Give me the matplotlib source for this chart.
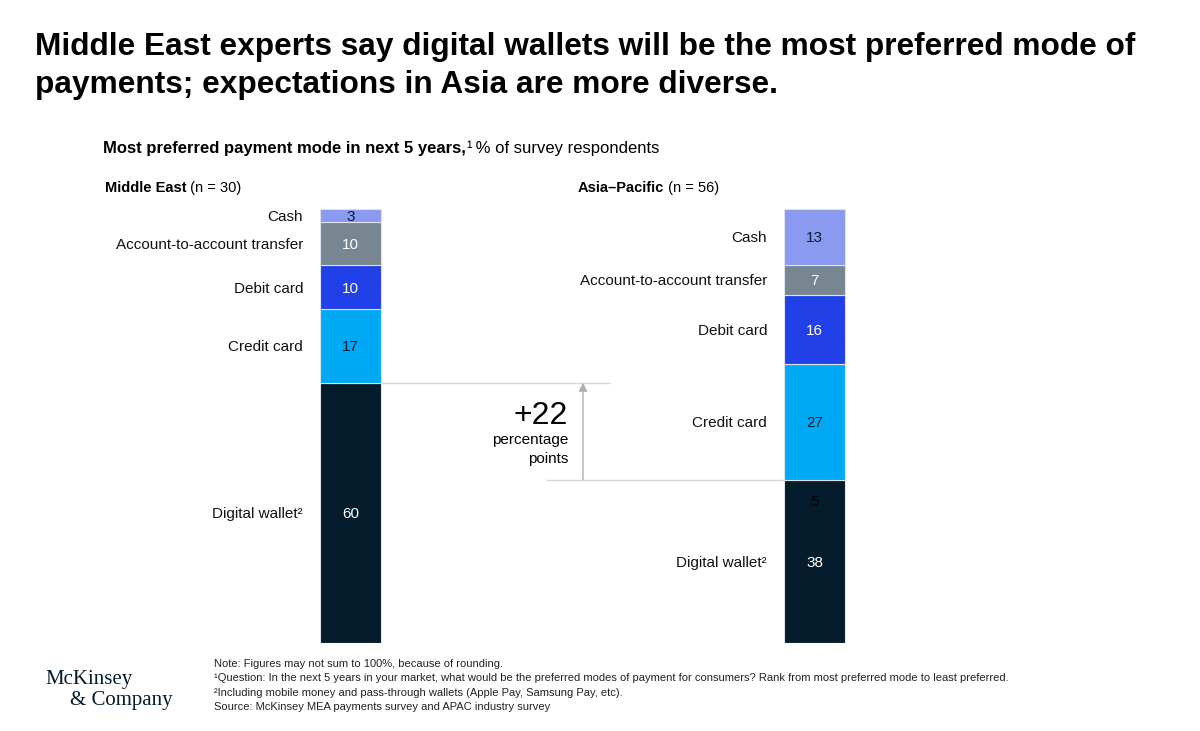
import matplotlib
matplotlib.use("Agg")
import matplotlib.pyplot as plt

# ---------------- data ----------------
categories = ["Digital wallet²", "Credit card", "Debit card", "Account-to-account transfer", "Cash"]
middle_east = [60, 17, 10, 10, 3]
asia_pacific = [38, 27, 16, 7, 13]
region_names = ["Middle East", "Asia\u2013Pacific"]
region_n = ["(n = 30)", "(n = 56)"]
seg_colors = ["#051C2C", "#00A9F4", "#2140E8", "#778690", "#8A9AF0"]
value_text_colors = ["white", "#0B1B2B", "white", "white", "#0B1B2B"]
stray_label = "5"          # extra label printed near top of Asia digital wallet
gap_label = "+22"

W, H = 1200, 731
fig = plt.figure(figsize=(W / 100, H / 100), dpi=100)
fig.patch.set_facecolor("white")
FONT = "Liberation Sans"
plt.rcParams["font.family"] = [FONT, "DejaVu Sans"]


def fy(y):
    return 1 - y / H


def fx(x):
    return x / W


renderer = fig.canvas.get_renderer()


def runs(x, y, parts, size, va="baseline", color="black"):
    """Draw a sequence of (text, weight) pieces left to right in pixel coords."""
    cx = x
    for txt, weight in parts:
        t = fig.text(fx(cx), fy(y), txt, fontsize=size, fontweight=weight,
                     va=va, ha="left", color=color)
        bb = t.get_window_extent(renderer=renderer)
        cx += bb.width


# ---------------- title ----------------
fig.text(fx(35), fy(55), "Middle East experts say digital wallets will be the most preferred mode of",
         fontsize=22.8, fontweight="bold", va="baseline")
fig.text(fx(35), fy(93), "payments; expectations in Asia are more diverse.",
         fontsize=22.8, fontweight="bold", va="baseline")

runs(103, 153, [("Most preferred payment mode in next 5 years,", "bold"), ("¹", "normal"),
                (" % of survey respondents", "normal")], 12)
runs(105, 192, [(region_names[0], "bold"), (" " + region_n[0], "normal")], 10.5)
runs(578, 192, [(region_names[1], "bold"), (" " + region_n[1], "normal")], 10.5)

# ---------------- bars ----------------
ax = fig.add_axes([0, fy(643), 1, (643 - 209) / H])
ax.set_xlim(0, W)
ax.set_ylim(0, 100)
ax.axis("off")

bar_x = [350.5, 814.5]
bar_w = 61
tops = []
for bi, vals in enumerate([middle_east, asia_pacific]):
    total = sum(vals)
    norm = [v / total * 100 for v in vals]
    bottom = 0
    seg_bounds = []
    for i, (v, nv) in enumerate(zip(vals, norm)):
        ax.bar(bar_x[bi], nv, width=bar_w, bottom=bottom, color=seg_colors[i],
               edgecolor="#DDE3EA", linewidth=0.8)
        c = bottom + nv / 2
        ax.text(bar_x[bi], c, str(v), ha="center", va="center_baseline", fontsize=11,
                color=value_text_colors[i])
        ax.text(bar_x[bi] - bar_w / 2 - 17, c, categories[i], ha="right",
                va="center_baseline", fontsize=11, color="#111111")
        seg_bounds.append((bottom, bottom + nv))
        bottom += nv
    tops.append(seg_bounds)

# stray dark label near top of Asia digital wallet segment
dw_top_asia = tops[1][0][1]
ax.text(bar_x[1], dw_top_asia - 4.7, stray_label, ha="center", va="center_baseline",
        fontsize=11, color="black")

# ---------------- gap annotation ----------------
me_dw_top = tops[0][0][1]
ax.plot([bar_x[0] + bar_w / 2, 610], [me_dw_top, me_dw_top], color="#D9D9D9", lw=1)
ax.plot([547, bar_x[1] - bar_w / 2], [dw_top_asia, dw_top_asia], color="#D9D9D9", lw=1)
ax.annotate("", xy=(583, me_dw_top), xytext=(583, dw_top_asia),
            arrowprops=dict(arrowstyle="-|>,head_length=0.5,head_width=0.25",
                            color="#B0B0B0", lw=1, shrinkA=0, shrinkB=0))

fig.text(fx(568), fy(412), gap_label, fontsize=23, ha="right", va="center_baseline",
         color="black")
fig.text(fx(568), fy(439), "percentage", fontsize=11, ha="right", va="center_baseline")
fig.text(fx(568), fy(458), "points", fontsize=11, ha="right", va="center_baseline")

# ---------------- footer ----------------
fig.text(fx(45), fy(684), "McKinsey", fontsize=15, family="Liberation Serif",
         va="baseline", color="#051C2C")
fig.text(fx(70), fy(705), "& Company", fontsize=15, family="Liberation Serif",
         va="baseline", color="#051C2C")

notes = [
    "Note: Figures may not sum to 100%, because of rounding.",
    "¹Question: In the next 5 years in your market, what would be the preferred modes of payment for consumers? Rank from most preferred mode to least preferred.",
    "²Including mobile money and pass-through wallets (Apple Pay, Samsung Pay, etc).",
    "Source: McKinsey MEA payments survey and APAC industry survey",
]
for i, n in enumerate(notes):
    fig.text(fx(214), fy(664 + i * 14.3), n, fontsize=8.05, va="center", color="#222222")

fig.savefig("out.png", dpi=100, facecolor="white")
